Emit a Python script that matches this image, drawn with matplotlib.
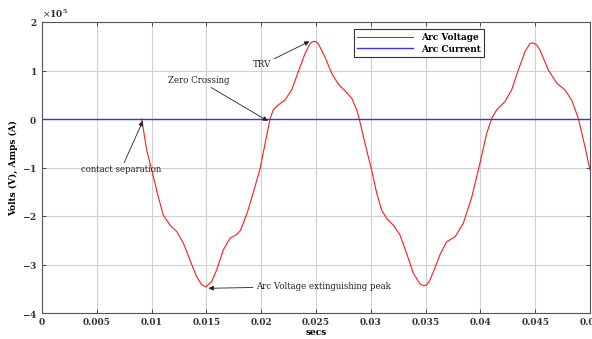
import matplotlib
matplotlib.use('Agg')
import matplotlib.pyplot as plt
from matplotlib.ticker import ScalarFormatter

# data (time in s, voltage in units of 1e5 V)
# voltage trace starts at contact separation
t_volt = [0.0091, 0.00955, 0.01016, 0.0106, 0.01107, 0.01168, 0.01229,
          0.0129, 0.0135, 0.01411, 0.01457, 0.01496, 0.01548, 0.01594, 0.01654,
          0.01715, 0.01776, 0.0181, 0.0187, 0.0193, 0.0199, 0.0206, 0.0208,
          0.0211, 0.02156, 0.02217, 0.02278, 0.02339, 0.024, 0.02445, 0.02465,
          0.02482, 0.02502, 0.02521, 0.02582, 0.02643, 0.02704, 0.02765, 0.02826,
          0.02871, 0.02895, 0.02932, 0.02977, 0.03008, 0.03054, 0.03099, 0.03145,
          0.03206, 0.03266, 0.03327, 0.03388, 0.03449, 0.03485, 0.0351, 0.0354,
          0.03601, 0.03631, 0.03692, 0.03768, 0.03844, 0.0392, 0.03996, 0.04057,
          0.04103, 0.04149, 0.04224, 0.04285, 0.04346, 0.04407, 0.04453, 0.04483,
          0.04512, 0.04544, 0.0462, 0.04696, 0.04772, 0.04833, 0.04894, 0.04954,
          0.05]
v_volt = [0.0, -0.64, -1.19, -1.60, -1.98, -2.19, -2.32,
          -2.56, -2.91, -3.25, -3.42, -3.46, -3.35, -3.11, -2.70,
          -2.46, -2.38, -2.30, -1.95, -1.50, -1.02, -0.23, 0.0,
          0.19, 0.29, 0.39, 0.60, 0.98, 1.35, 1.55, 1.59,
          1.60, 1.59, 1.55, 1.28, 0.94, 0.72, 0.58, 0.43,
          0.19, 0.0, -0.36, -0.78, -1.05, -1.53, -1.88, -2.05,
          -2.19, -2.39, -2.77, -3.18, -3.40, -3.44, -3.42, -3.32,
          -2.98, -2.80, -2.53, -2.43, -2.15, -1.62, -0.91, -0.30,
          0.01, 0.19, 0.36, 0.60, 1.01, 1.39, 1.56, 1.57,
          1.53, 1.42, 1.01, 0.74, 0.60, 0.39, 0.01, -0.57,
          -1.05]
t_curr = [0.0, 0.05]
i_curr = [0.0, 0.0]

x_ticks = [0, 0.005, 0.01, 0.015, 0.02, 0.025, 0.03, 0.035, 0.04, 0.045, 0.05]
x_labels = ['0', '0.005', '0.01', '0.015', '0.02', '0.025', '0.03', '0.035',
            '0.04', '0.045', '0.05']
y_ticks = [-4, -3, -2, -1, 0, 1, 2]

plt.rcParams['font.family'] = ['DejaVu Serif']
plt.rcParams['axes.unicode_minus'] = False

fig = plt.figure(figsize=(5.92, 3.39), dpi=100)
ax = fig.add_axes([42 / 592, 1 - 313 / 339, 548 / 592, 291 / 339])

scale = 1e5
ax.plot(t_volt, [v * scale for v in v_volt], color='#ff1a1a', lw=0.8,
        label='Arc Voltage', zorder=2)
ax.plot(t_curr, [c * scale for c in i_curr], color='#3333ff', lw=1.0,
        label='Arc Current', zorder=3)

ax.set_xlim(0, 0.05)
ax.set_ylim(-4 * scale, 2 * scale)
ax.set_xticks(x_ticks)
ax.set_xticklabels(x_labels)
ax.set_yticks([y * scale for y in y_ticks])

fmt = ScalarFormatter(useMathText=True)
fmt.set_powerlimits((0, 0))
ax.yaxis.set_major_formatter(fmt)
ax.yaxis.get_offset_text().set_fontsize(6.5)
ax.yaxis.get_offset_text().set_fontweight('bold')

ax.grid(True, color='#d0d0d0', lw=0.8)
ax.tick_params(direction='in', top=True, right=True, labelsize=6.5,
               length=3, width=0.6, colors='#333333')
for lab in ax.get_xticklabels() + ax.get_yticklabels():
    lab.set_fontweight('bold')
for sp in ax.spines.values():
    sp.set_color('#555555')
    sp.set_linewidth(0.8)

ax.set_xlabel('secs', fontsize=6.5, fontweight='bold', labelpad=1)
ax.set_ylabel('Volts (V), Amps (A)', fontsize=6.5, fontweight='bold', labelpad=3)

leg = ax.legend(loc='upper left', bbox_to_anchor=(0.569, 0.975), borderaxespad=0,
                fancybox=False, edgecolor='#333333', framealpha=1,
                prop={'size': 6.5, 'weight': 'bold'}, handlelength=6.2,
                borderpad=0.4, labelspacing=0.3)
leg.get_frame().set_linewidth(0.8)

arrow = dict(arrowstyle='-|>', color='#222222', lw=0.6, mutation_scale=7,
             shrinkA=0, shrinkB=0)
txt = dict(fontsize=6.2, color='#222222')
ax.annotate('TRV', xy=(0.0244, 1.6 * scale), xytext=(0.0201, 1.12 * scale),
            ha='center', va='center', arrowprops=arrow, **txt)
ax.annotate('Zero Crossing', xy=(0.0206, -0.04 * scale),
            xytext=(0.0143, 0.8 * scale), ha='center', va='center',
            arrowprops=arrow, **txt)
ax.annotate('contact separation', xy=(0.0092, -0.04 * scale),
            xytext=(0.0072, -1.05 * scale), ha='center', va='center',
            arrowprops=arrow, **txt)
ax.annotate('Arc Voltage extinguishing peak', xy=(0.0152, -3.49 * scale),
            xytext=(0.0195, -3.45 * scale), ha='left', va='center',
            arrowprops=arrow, **txt)

fig.savefig('out.png', dpi=100)
